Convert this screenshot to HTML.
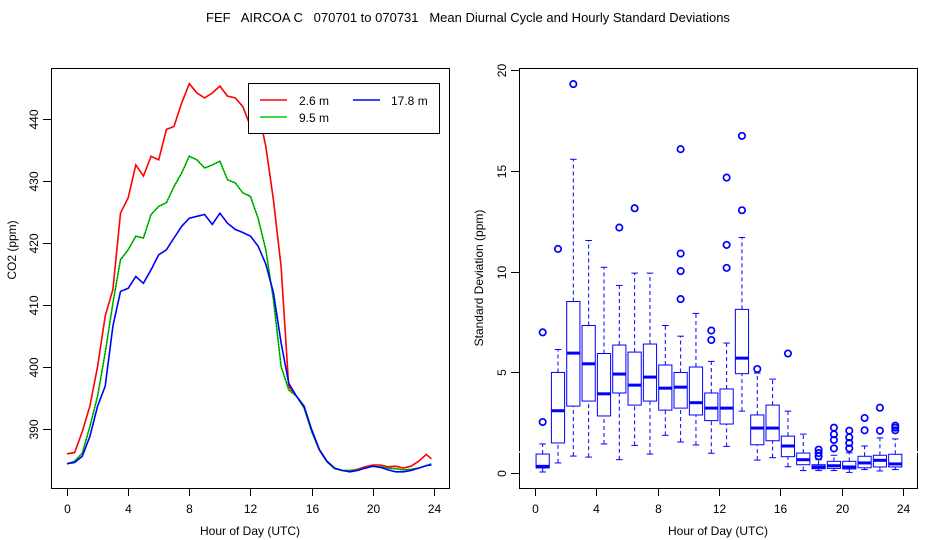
<!DOCTYPE html>
<html><head><meta charset="utf-8"><style>
body{margin:0;background:#fff;}
svg{display:block;font-family:"Liberation Sans",sans-serif;}
</style></head><body>
<svg id="svg" width="936" height="540" viewBox="0 0 936 540">
<text x="468" y="22" font-size="13" text-anchor="middle" style="white-space:pre">FEF   AIRCOA C   070701 to 070731   Mean Diurnal Cycle and Hourly Standard Deviations</text>
<g id="left"></g>
<g id="right"></g>
</svg>
<script>
const hours=[0,0.5,1,1.5,2,2.5,3,3.5,4,4.5,5,5.5,6,6.5,7,7.5,8,8.5,9,9.5,10,10.5,11,11.5,12,12.5,13,13.5,14,14.5,15,15.5,16,16.5,17,17.5,18,18.5,19,19.5,20,20.5,21,21.5,22,22.5,23,23.5,23.83];
const co2_2_6=[386.0,386.2,389.6,393.7,400.1,408.2,412.5,424.8,427.3,432.6,430.8,434,433.4,438.3,438.8,442.6,445.7,444.2,443.4,444.2,445.3,443.7,443.4,442,438.8,441.5,435.6,427,416.2,396.9,395.3,393.7,389.9,386.7,384.8,383.7,383.3,383.3,383.5,383.9,384.2,384.2,383.9,384,383.7,384,384.8,385.9,385.2];
const co2_9_5=[384.4,384.8,386.1,390.4,395.3,402.3,410.3,417.3,418.9,421.1,420.8,424.6,425.9,426.5,429.1,431.3,434,433.4,432.1,432.6,433.2,430.2,429.7,428.1,427.5,424,418.9,410.9,400.1,396.3,395.3,393.4,389.6,386.6,384.7,383.6,383.3,383.3,383.4,383.7,384,383.9,383.7,383.6,383.4,383.5,383.7,384.1,384.4];
const co2_17_8=[384.4,384.6,385.6,388.8,393.7,396.9,406.6,412.2,412.7,414.6,413.5,415.7,418.1,418.9,420.8,422.7,424,424.3,424.6,423,424.8,423.2,422.2,421.7,421.1,419.5,416.6,412,403.9,397.4,395.3,393.7,389.9,386.7,384.8,383.7,383.3,383.1,383.3,383.7,384,383.8,383.4,383.1,383.1,383.3,383.7,384.1,384.2];
const xTicks=[0,4,8,12,16,20,24];
const co2Ticks=[390,400,410,420,430,440];
const sdTicks=[0,5,10,15,20];
const boxHours=[0.5,1.5,2.5,3.5,4.5,5.5,6.5,7.5,8.5,9.5,10.5,11.5,12.5,13.5,14.5,15.5,16.5,17.5,18.5,19.5,20.5,21.5,22.5,23.5];
const whiskLo=[0.05,0.5,0.84,0.79,1.44,0.66,1.37,0.94,1.87,1.54,1.39,0.98,1.32,3.07,0.64,0.76,0.31,0.12,0.12,0.12,0.03,0.17,0.1,0.17];
const q1=[0.25,1.49,3.32,3.57,2.83,3.97,3.37,3.57,3.12,3.22,2.88,2.6,2.43,4.93,1.4,1.6,0.81,0.41,0.21,0.23,0.2,0.26,0.3,0.3];
const med=[0.33,3.09,5.95,5.42,3.93,4.91,4.36,4.76,4.21,4.26,3.49,3.22,3.22,5.7,2.23,2.23,1.34,0.66,0.3,0.36,0.3,0.5,0.63,0.45];
const q3=[0.94,4.99,8.51,7.32,5.93,6.35,6.0,6.4,5.36,4.99,5.26,3.97,4.17,8.12,2.88,3.37,1.83,0.99,0.41,0.58,0.58,0.83,0.88,0.93];
const whiskHi=[1.44,6.13,15.57,11.54,10.21,9.31,9.92,9.92,7.32,6.79,7.92,5.54,6.45,11.69,4.96,4.66,3.07,1.93,0.66,0.88,1.0,1.34,1.74,1.69];
const outliers=[[2.53,6.98],[11.12],[19.3],[],[],[12.18],[13.14],[],[],[8.63,10.02,10.89,16.07],[],[6.6,7.07],[10.18,11.32,14.66],[13.04,16.73],[5.16],[],[5.93],[],[0.83,0.99,1.16],[1.22,1.64,1.92,2.25],[1.22,1.49,1.77,2.1],[2.12,2.73],[2.1,3.24],[2.12,2.25,2.35]];

const NS='http://www.w3.org/2000/svg';
function mk(parent,tag,attrs){const e=document.createElementNS(NS,tag);for(const k in attrs)e.setAttribute(k,attrs[k]);parent.appendChild(e);return e;}
const L=document.getElementById('left'),R=document.getElementById('right');
const lx=h=>67+h*15.29, ly=v=>119+(440-v)*6.2;
const rx=h=>535+h*15.33, ry=v=>473-v*20.15;

function frame(g,x0,y0,x1,y1,nm){
  const r=mk(g,'rect',{x:x0,y:y0,width:x1-x0,height:y1-y0,fill:'none',stroke:'#000','stroke-width':1});
  
  
}
frame(L,51.5,68.5,449.5,488.5,'left-plot-frame');
frame(R,519.5,68.5,917.5,488.5,'right-plot-frame');

function xaxis(g,fx,cx,pref){
  xTicks.forEach(t=>{
    const x=Math.round(fx(t))+0.5;
    const tk=mk(g,'line',{x1:x,x2:x,y1:488,y2:496,stroke:'#000'});
    
    
    const tx=mk(g,'text',{x:x,y:513,'font-size':12,'text-anchor':'middle'});tx.textContent=t;
    
    
  });
  const t=mk(g,'text',{x:cx,y:535,'font-size':12,'text-anchor':'middle'});t.textContent='Hour of Day (UTC)';
  
  
}
function yaxis(g,ticks,fy,xa,pref,title,tx,cy){
  ticks.forEach(v=>{
    const y=Math.round(fy(v))+0.5;
    const tk=mk(g,'line',{x1:xa-8,x2:xa,y1:y,y2:y,stroke:'#000'});
    
    
    const t=mk(g,'text',{x:xa-13,y:y,'font-size':12,'text-anchor':'middle',transform:`rotate(-90 ${xa-13} ${y})`});t.textContent=v;
    
    
  });
  const t=mk(g,'text',{x:tx,y:cy,'font-size':12,'text-anchor':'middle',transform:`rotate(-90 ${tx} ${cy})`});t.textContent=title;
  
  
}
xaxis(L,lx,250,'left');xaxis(R,rx,718,'right');
yaxis(L,co2Ticks,ly,51,'left','CO2 (ppm)',16,250);
yaxis(R,sdTicks,ry,519,'right','Standard Deviation (ppm)',483,278);

function series(arr,col,nm,dash){
  const d=arr.map((v,i)=>(i?'L':'M')+lx(hours[i]).toFixed(1)+','+ly(v).toFixed(1)).join('');
  const p=mk(L,'path',{d:d,fill:'none',stroke:col,'stroke-width':1.6});
  
  
  if(dash){const q=mk(L,'path',{d:d,fill:'none',stroke:'#000','stroke-width':0.6,'stroke-dasharray':'1,2'});
    
    }
}
series(co2_2_6,'#f00','series-2-6m');
series(co2_9_5,'#0c0','series-9-5m',true);
series(co2_17_8,'#00f','series-17-8m');

const lg=mk(L,'g',{});


mk(lg,'rect',{x:248.5,y:83.5,width:191,height:50,fill:'#fff',stroke:'#000'});
[['2.6 m','#f00',260,299,100],['17.8 m','#00f',353,391,100],['9.5 m','#0c0',260,299,117]].forEach(e=>{
  const it=mk(lg,'g',{});
  
  
  mk(it,'line',{x1:e[2],x2:e[2]+27,y1:e[4],y2:e[4],stroke:e[1],'stroke-width':1.6});
  const t=mk(it,'text',{x:e[3],y:e[4]+5,'font-size':12});t.textContent=e[0];
});

const wl=mk(R,'line',{x1:517,x2:920,y1:ry(1.05),y2:ry(1.05),stroke:'#fff','stroke-width':1.5});



boxHours.forEach((h,i)=>{
  const g=mk(R,'g',{stroke:'#00f',fill:'none'});
  
  
  const cx=rx(h), hw=6.6, cw=3.3;
  mk(g,'line',{x1:cx,x2:cx,y1:ry(whiskLo[i]),y2:ry(q1[i]),'stroke-dasharray':'4,3'});
  mk(g,'line',{x1:cx,x2:cx,y1:ry(q3[i]),y2:ry(whiskHi[i]),'stroke-dasharray':'4,3'});
  mk(g,'line',{x1:cx-cw,x2:cx+cw,y1:ry(whiskLo[i]),y2:ry(whiskLo[i])});
  mk(g,'line',{x1:cx-cw,x2:cx+cw,y1:ry(whiskHi[i]),y2:ry(whiskHi[i])});
  mk(g,'rect',{x:cx-hw,y:ry(q3[i]),width:2*hw,height:ry(q1[i])-ry(q3[i]),fill:'#fff'});
  mk(g,'line',{x1:cx-hw,x2:cx+hw,y1:ry(med[i]),y2:ry(med[i]),'stroke-width':3});
  outliers[i].forEach(o=>{
    const c=mk(g,'circle',{cx:cx,cy:ry(o),r:3.2,'stroke-width':1.7});
    
    
  });
});
</script>
</body></html>
